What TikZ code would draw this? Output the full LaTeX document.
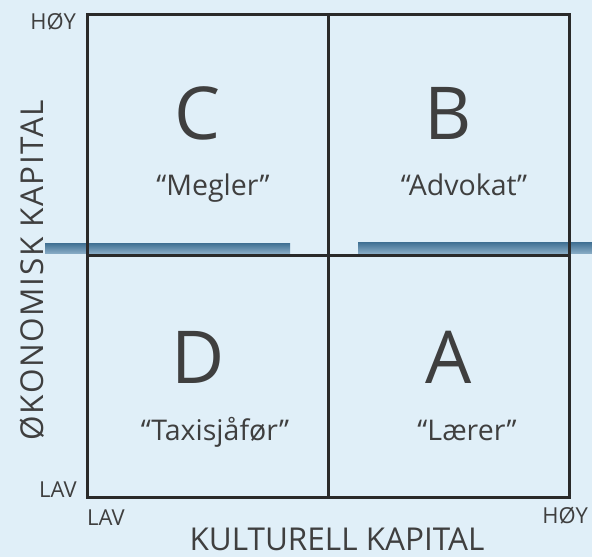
\documentclass[tikz,border=0pt]{standalone}
\usepackage{fontspec}
\setmainfont{Open Sans}
\usetikzlibrary{positioning}
\definecolor{bakgrunn}{HTML}{E0EFF8}
\definecolor{stripe}{HTML}{3F6F92}
\definecolor{stripelys}{HTML}{86AAC4}
\definecolor{strek}{HTML}{2A2A2A}
\tikzset {
  every node/.style={text=strek!90, inner sep=0pt, anchor=base},
  bokstav/.style={font=\fontsize{73}{73}\selectfont},
  yrke/.style={font=\fontsize{28.5}{28.5}\selectfont},
  niva/.style={font=\fontsize{22}{22}\selectfont},
  akse/.style={font=\fontsize{31.5}{31.5}\selectfont},
}

\begin{document}
\begin{tikzpicture}[x=1pt,y=-1pt]
  \fill[bakgrunn] (0,0) rectangle (592,557);
  \useasboundingbox (0,0) rectangle (592,557);
  % blue bars behind
  \shade[top color=stripe, bottom color=stripelys] (45,243) rectangle (290,253);
  \shade[top color=stripe, bottom color=stripelys] (358,242) rectangle (592,253);
  % quadrants
  \draw[strek, line width=3pt] (87,14) rectangle (569,497);
  \draw[strek, line width=3pt] (328,14) -- (328,497) (87,255) -- (569,255);
  \node[bokstav] (c) at (198,139) {C};
  \node[bokstav] (b) at (448,139) {B};
  \node[bokstav] (d) at (198,383) {D};
  \node[bokstav] (a) at (449,383) {A};
  \node[yrke] (megler) at (213,195) {“Megler”};
  \node[yrke] (advokat) at (464,195) {“Advokat”};
  \node[yrke] (taxi) at (215,440) {“Taxisjåfør”};
  \node[yrke] (laerer) at (467,440) {“Lærer”};
  % axes
  \node[niva, anchor=base east] (yhoy) at (76,29) {HØY};
  \node[niva, anchor=base east] (ylav) at (77,497) {LAV};
  \node[niva, anchor=base west] (xlav) at (87,525) {LAV};
  \node[niva, anchor=base east] (xhoy) at (588,523) {HØY};
  \node[akse] (kultur) at (337,550) {KULTURELL KAPITAL};
  \node[akse, rotate=90, font=\fontsize{31.5}{31.5}\selectfont\addfontfeature{LetterSpace=5}] (okonomi) at (43,270) {ØKONOMISK KAPITAL};
\end{tikzpicture}
\end{document}
